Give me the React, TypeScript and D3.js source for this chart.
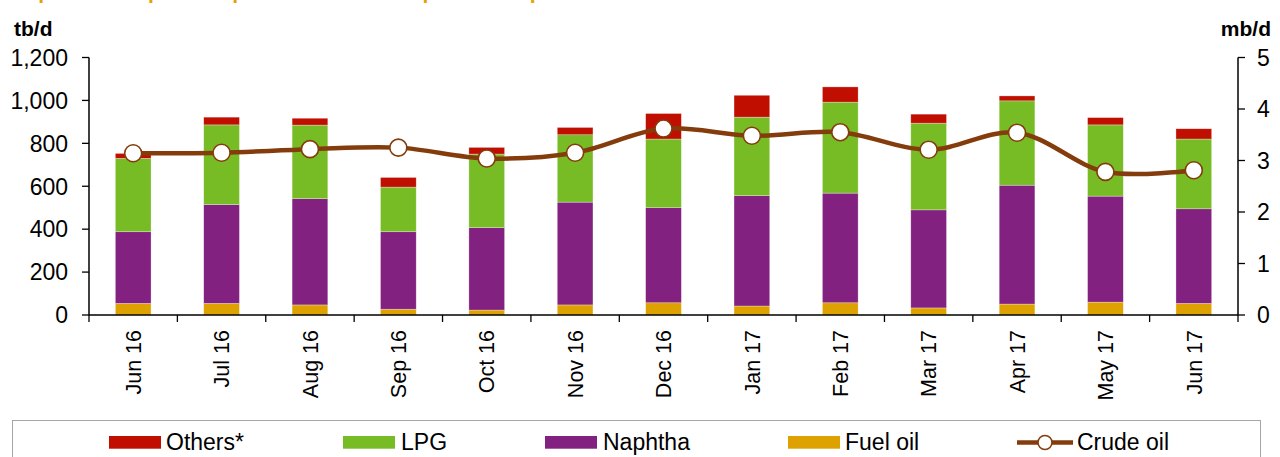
import React from "react";
import * as d3 from "d3";

const categories = ["Jun 16", "Jul 16", "Aug 16", "Sep 16", "Oct 16", "Nov 16", "Dec 16", "Jan 17", "Feb 17", "Mar 17", "Apr 17", "May 17", "Jun 17"];
const fuelOil = [54, 54, 47, 27, 23, 47, 57, 42, 57, 33, 51, 60, 54];
const naphtha = [334, 461, 495, 361, 384, 479, 443, 514, 511, 457, 554, 494, 441];
const lpg = [342, 371, 343, 208, 343, 314, 320, 366, 424, 404, 393, 332, 325];
const others = [23, 36, 32, 45, 31, 34, 119, 102, 71, 42, 23, 34, 48];
const crudeOil = [3.14, 3.15, 3.22, 3.25, 3.04, 3.15, 3.62, 3.48, 3.55, 3.21, 3.54, 2.78, 2.81];
const leftTicks = [0, 200, 400, 600, 800, 1000, 1200];
const rightTicks = [0, 1, 2, 3, 4, 5];

const seriesNames = ["Fuel oil", "Naphtha", "LPG", "Others*"];
const seriesValues = [fuelOil, naphtha, lpg, others];
const colors: Record<string, string> = {
  "Fuel oil": "#DDA200",
  "Naphtha": "#82217F",
  "LPG": "#77BC25",
  "Others*": "#C00F00",
};
const crudeColor = "#843C0C";
const FONT = "Liberation Sans, Arial, sans-serif";

export default function App() {
  const W = 1280, H = 457;
  const x0 = 89, x1 = 1238, yTop = 57.5, yBot = 315;

  const xc = (i: number) => x0 + (i + 0.5) * ((x1 - x0) / categories.length);
  const yL = d3.scaleLinear().domain([0, 1200]).range([yBot, yTop]);
  const yR = d3.scaleLinear().domain([0, 5]).range([yBot, yTop]);

  const table = categories.map((c, i) => {
    const row: any = { cat: c };
    seriesNames.forEach((s, k) => (row[s] = seriesValues[k][i]));
    return row;
  });
  const stack = d3.stack<any>().keys(seriesNames)(table);
  const catStep = (x1 - x0) / categories.length;
  const bw = catStep * 0.404;

  const line = d3
    .line<number>()
    .x((_, i) => xc(i))
    .y((d) => yR(d))
    .curve(d3.curveCatmullRom.alpha(0.5));

  const legend = [
    { name: "Others*", sx: 109, tx: 166 },
    { name: "LPG", sx: 343, tx: 401 },
    { name: "Naphtha", sx: 545, tx: 603 },
    { name: "Fuel oil", sx: 788, tx: 845 },
  ];

  return (
    <svg width={W} height={H} style={{ position: "absolute", left: 0, top: 0 }} fontFamily={FONT}>
      <rect width={W} height={H} fill="#fff" />
      <text x={2} y={-1} fontSize={21} fontWeight="bold" fill="#E5A10A">
        Graph 9 - 5: Japan's imports of crude and petroleum products
      </text>

      {stack.map((layer) => (
        <g key={layer.key} fill={colors[layer.key]}>
          {layer.map((d, i) => (
            <rect
              key={i}
              x={xc(i) - bw / 2}
              width={bw}
              y={yL(d[1])}
              height={yL(d[0]) - yL(d[1])}
              stroke="#fff"
              strokeOpacity={0.5}
              strokeWidth={0.6}
            />
          ))}
        </g>
      ))}

      <path d={line(crudeOil) || ""} fill="none" stroke={crudeColor} strokeWidth={4.5} strokeLinejoin="round" />
      {crudeOil.map((v, i) => (
        <circle key={i} cx={xc(i)} cy={yR(v)} r={8.5} fill="#fff" stroke={crudeColor} strokeWidth={1.6} />
      ))}

      <line x1={x0} x2={x0} y1={yTop} y2={yBot} stroke="#000" strokeWidth={1.5} />
      {leftTicks.map((t) => (
        <g key={t}>
          <line x1={x0 - 7} x2={x0} y1={yL(t)} y2={yL(t)} stroke="#000" strokeWidth={1.3} />
          <text x={x0 - 21} y={yL(t)} dy="0.36em" textAnchor="end" fontSize={23} fill="#000">
            {d3.format(",")(t)}
          </text>
        </g>
      ))}
      <line x1={x1} x2={x1} y1={yTop} y2={yBot} stroke="#000" strokeWidth={1.5} />
      {rightTicks.map((t) => (
        <g key={t}>
          <line x1={x1} x2={x1 + 7} y1={yR(t)} y2={yR(t)} stroke="#000" strokeWidth={1.3} />
          <text x={x1 + 19} y={yR(t)} dy="0.36em" textAnchor="start" fontSize={23} fill="#000">
            {t}
          </text>
        </g>
      ))}
      <line x1={x0} x2={x1} y1={yBot} y2={yBot} stroke="#000" strokeWidth={1.5} />
      {d3.range(categories.length + 1).map((i) => (
        <line key={i} x1={x0 + i * catStep} x2={x0 + i * catStep} y1={yBot} y2={yBot + 7} stroke="#000" strokeWidth={1.3} />
      ))}
      {categories.map((c, i) => (
        <text
          key={c}
          transform={`translate(${xc(i)},${330}) rotate(-90)`}
          dy="0.36em"
          textAnchor="end"
          fontSize={21.5}
          fill="#000"
        >
          {c}
        </text>
      ))}

      <text x={14} y={36} fontSize={21} fontWeight="bold" fill="#000">tb/d</text>
      <text x={1271} y={36} fontSize={21} fontWeight="bold" fill="#000" textAnchor="end">mb/d</text>

      <rect x={12.5} y={420.5} width={1248} height={60} fill="none" stroke="#A6A6A6" strokeWidth={1} />
      {legend.map((l) => (
        <g key={l.name}>
          <rect x={l.sx} y={436} width={52} height={12.7} fill={colors[l.name]} />
          <text x={l.tx} y={449.5} fontSize={23} fill="#000">{l.name}</text>
        </g>
      ))}
      <line x1={1017} x2={1073} y1={442.5} y2={442.5} stroke={crudeColor} strokeWidth={4.5} />
      <circle cx={1045} cy={442.5} r={7} fill="#fff" stroke={crudeColor} strokeWidth={1.6} />
      <text x={1077} y={449.5} fontSize={23} fill="#000">Crude oil</text>
    </svg>
  );
}
